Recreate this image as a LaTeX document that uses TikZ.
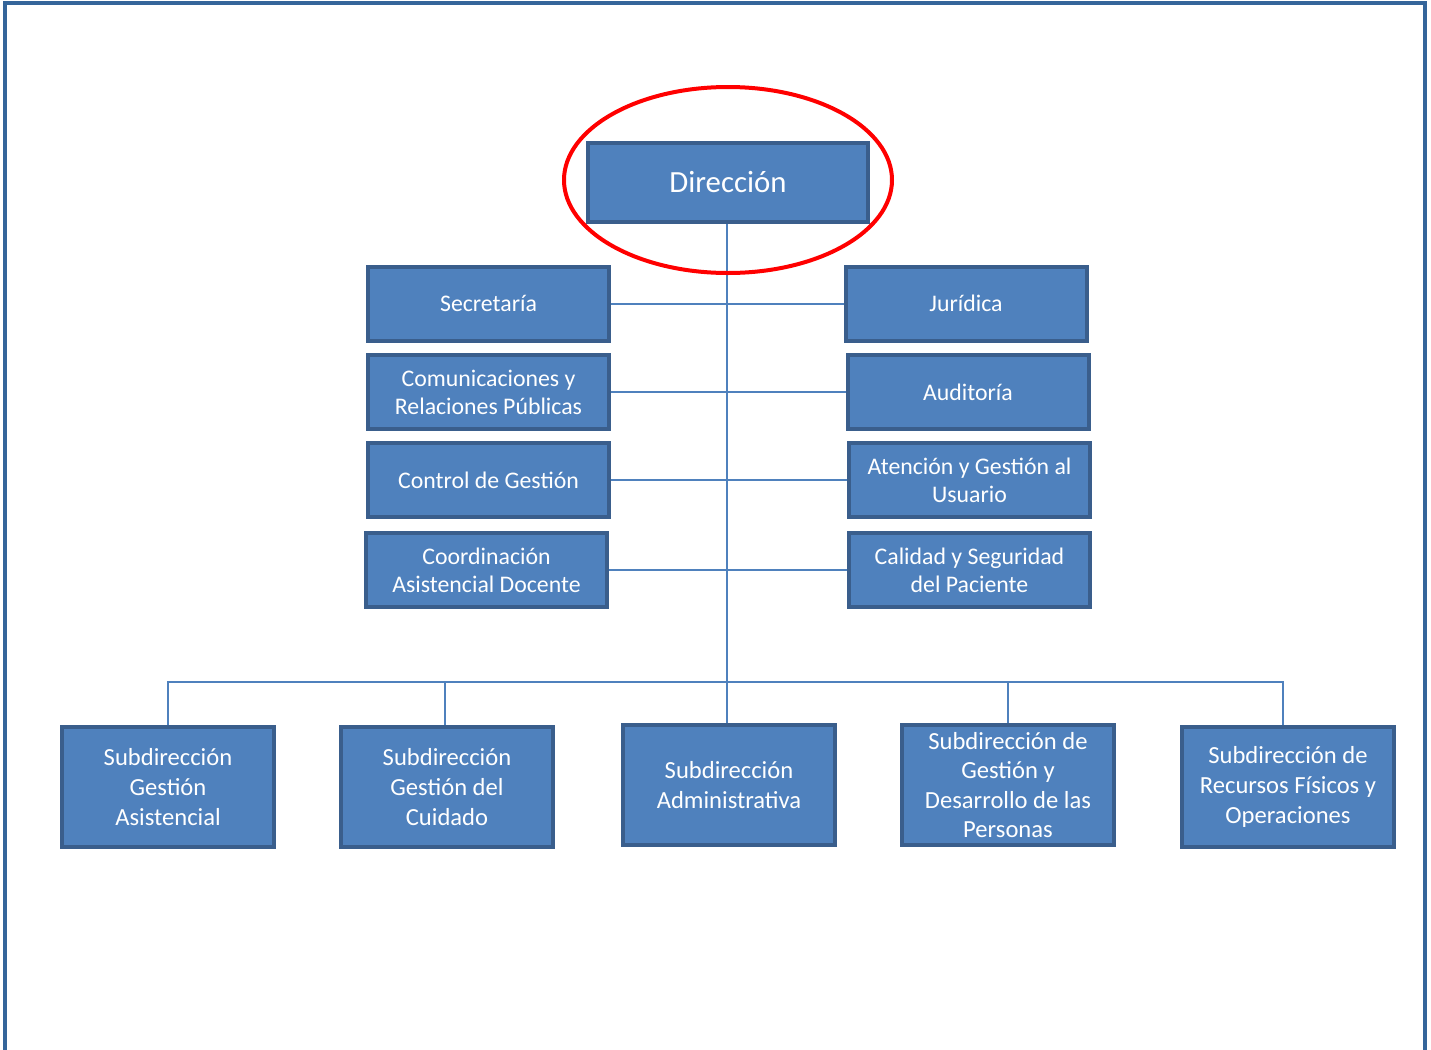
\documentclass[tikz,border=0pt]{standalone}
\usepackage{fontspec}
\setmainfont{Carlito}
\definecolor{boxfill}{HTML}{4F81BD}
\definecolor{boxline}{HTML}{3A5E8C}
\definecolor{pageline}{HTML}{35659A}
\begin{document}
\begin{tikzpicture}[x=0.5pt,y=-0.5pt,
  unit/.style={draw=boxline, fill=boxfill, line width=2pt, text=white, align=center,
     inner sep=0pt, font=\fontsize{11.9}{14}\selectfont},
  midbox/.style={unit, minimum width=120.5pt, minimum height=37pt},
  subbox/.style={unit, minimum width=106pt, minimum height=60pt, font=\fontsize{12.3}{14.8}\selectfont},
  link/.style={draw=boxfill, line width=1pt}]
\useasboundingbox (0,0) rectangle (1431,1050);
\draw[pageline, line width=2pt] (5,1060) -- (5,3) -- (1425,3) -- (1425,1060);

\node[unit, minimum width=140pt, minimum height=39.5pt, font=\fontsize{15.4}{18}\selectfont] (dir) at (728,182.5) {Dirección};

\node[midbox] (sec) at (488.5,303.5) {Secretaría};
\node[midbox] (jur) at (966,303.5) {Jurídica};
\node[midbox] (com) at (488.5,392) {Comunicaciones y\\Relaciones Públicas};
\node[midbox] (aud) at (968,392) {Auditoría};
\node[midbox] (ctl) at (488.5,480) {Control de Gestión};
\node[midbox] (ate) at (969.5,480) {Atención y Gestión al\\Usuario};
\node[midbox] (coo) at (486.5,570) {Coordinación\\Asistencial Docente};
\node[midbox] (cal) at (969.5,570) {Calidad y Seguridad\\del Paciente};

\node[subbox] (sga) at (168,787) {Subdirección\\Gestión\\Asistencial};
\node[subbox] (sgc) at (447,787) {Subdirección\\Gestión del\\Cuidado};
\node[subbox] (sad) at (729,785) {Subdirección\\Administrativa};
\node[subbox] (sgd) at (1008,785) {Subdirección de\\Gestión y\\Desarrollo de las\\Personas};
\node[subbox] (srf) at (1288,787) {Subdirección de\\Recursos Físicos y\\Operaciones};

\coordinate (bar) at (727,682);
\draw[link] (sec.east) -- (jur.west);
\draw[link] (com.east) -- (aud.west);
\draw[link] (ctl.east) -- (ate.west);
\draw[link] (coo.east) -- (cal.west);
\draw[link] (dir.south -| bar) -- (sad.north -| bar);
\draw[link] (sga.north) -- (sga.north |- bar) -- (1283,682) -- (srf.north -| 1283,0);
\draw[link] (sgc.north -| 445,0) -- (445,682);
\draw[link] (sgd.north) -- (sgd.north |- bar);

\draw[red, line width=2pt] (728,180) ellipse [x radius=164, y radius=93];
\end{tikzpicture}
\end{document}
